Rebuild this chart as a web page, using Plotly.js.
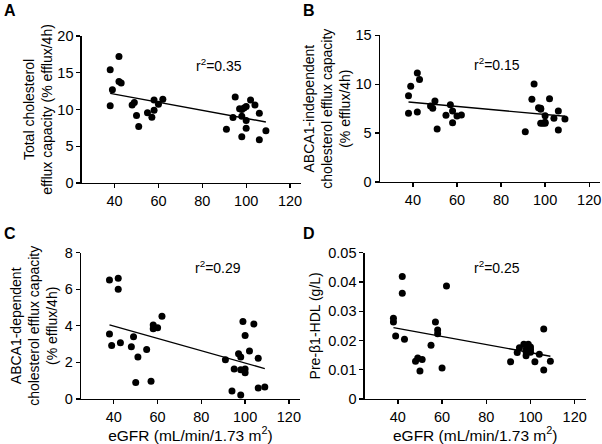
<!DOCTYPE html>
<html>
<head>
<meta charset="utf-8">
<script src="https://cdn.plot.ly/plotly-3.0.1.min.js"></script>
<style>html,body{margin:0;padding:0;background:#fff;}#chart{width:602px;height:444px;}</style>
</head>
<body>
<div id="chart"></div>
<script>
// eGFR (mL/min/1.73 m2), shared by all panels
const egfr = [38, 38, 39, 42, 42, 43, 48, 49, 50, 51, 55, 57, 58, 58, 60, 62,
              91, 94, 95, 97, 98, 98, 98, 99, 100, 100, 100, 102, 104, 106, 106, 109];
// Panel A: total cholesterol efflux capacity
const totalEfflux = [15.4, 10.5, 12.7, 17.2, 13.8, 13.6, 10.6, 10.95, 9.2, 7.7, 9.55, 8.95, 11.3, 9.9, 10.7, 11.4,
                     7.3, 8.9, 11.7, 10.1, 10.0, 6.3, 9.1, 10.2, 10.4, 8.5, 7.45, 11.3, 10.6, 9.5, 5.9, 7.1];
// Panel B: ABCA1-independent efflux
const indepEfflux = [8.83, 7.02, 9.78, 11.15, 7.16, 10.47, 7.77, 7.53, 8.28, 5.42, 6.82, 7.91, 7.26, 6.07, 6.75, 6.85,
                     5.15, 8.46, 10.02, 7.6, 7.53, 6.0, 7.45, 6.0, 6.78, 6.0, 6.1, 8.52, 6.51, 7.26, 5.32, 6.44];
// Panel C: ABCA1-dependent efflux
const depEfflux = [6.5, 3.55, 2.93, 6.6, 6.0, 3.08, 2.85, 3.4, 0.9, 2.3, 2.7, 0.97, 4.05, 3.84, 3.9, 4.52,
                   2.15, 0.44, 1.64, 2.48, 2.3, 0.22, 1.6, 4.24, 1.64, 1.43, 3.47, 2.63, 4.1, 2.23, 0.6, 0.66];
// Panel D: pre-beta1-HDL (g/L)
const preB1HDL = [0.0276, 0.0263, 0.0215, 0.0419, 0.0361, 0.0204, 0.0129, 0.0140, 0.0096, 0.0135, 0.0184, 0.0263, 0.0236, 0.0223, 0.0106, 0.0386,
                  0.0127, 0.0159, 0.0175, 0.0187, 0.0148, 0.0169, 0.0161, 0.0187, 0.0169, 0.0178, 0.0160, 0.0127, 0.0153, 0.0239, 0.0099, 0.0129];
// Regression line end points
const fitX = [38, 109];
const fitA = [12.2, 8.3];
const fitB = [8.18, 6.72];
const fitC = [4.05, 1.66];
const fitD = [0.0244, 0.0146];
const r2Labels = ['r<sup>2</sup>=0.35', 'r<sup>2</sup>=0.15', 'r<sup>2</sup>=0.29', 'r<sup>2</sup>=0.25'];
const xTicks = [40, 60, 80, 100, 120];

const FONT = 'Arial, "Liberation Sans", sans-serif';
const panels = [
  {y: totalEfflux, fit: fitA, ax: '', range: [0, 20], ticks: [0,5,10,15,20]},
  {y: indepEfflux, fit: fitB, ax: '2', range: [0, 15], ticks: [0,5,10,15]},
  {y: depEfflux,   fit: fitC, ax: '3', range: [0, 8], ticks: [0,2,4,6,8]},
  {y: preB1HDL,    fit: fitD, ax: '4', range: [0, 0.05], ticks: [0,0.01,0.02,0.03,0.04,0.05]}
];
const traces = [];
panels.forEach(p => {
  traces.push({x: egfr, y: p.y, type: 'scatter', mode: 'markers', xaxis: 'x'+p.ax, yaxis: 'y'+p.ax,
    marker: {color: '#000', size: 7}, showlegend: false, cliponaxis: false});
  traces.push({x: fitX, y: p.fit, type: 'scatter', mode: 'lines', xaxis: 'x'+p.ax, yaxis: 'y'+p.ax,
    line: {color: '#000', width: 1.4}, showlegend: false});
});

function xa(domain, anchor, title) {
  const o = {domain: domain, anchor: anchor, range: [25, 125], tickvals: xTicks, showgrid: false, zeroline: false,
    showline: true, linecolor: '#000', linewidth: 1.3, ticks: 'outside', ticklen: 4, tickwidth: 1.3, tickcolor: '#000',
    tickfont: {family: FONT, size: 14.5, color: '#000'}, fixedrange: true};
  if (title) o.title = {text: title, font: {family: FONT, size: 15.5, color: '#000'}, standoff: 5};
  return o;
}
function ya(domain, anchor, range, ticks, title, standoff) {
  return {domain: domain, anchor: anchor, range: range, tickvals: ticks, showgrid: false, zeroline: false,
    showline: true, linecolor: '#000', linewidth: 1.3, ticks: 'outside', ticklen: 4, tickwidth: 1.3, tickcolor: '#000',
    tickfont: {family: FONT, size: 14.5, color: '#000'}, fixedrange: true,
    title: {text: title, font: {family: FONT, size: 14, color: '#000'}, standoff: standoff}};
}

const layout = {
  width: 602, height: 444, margin: {l: 0, r: 0, t: 0, b: 0}, paper_bgcolor: '#fff', plot_bgcolor: '#fff',
  font: {family: FONT, color: '#000'},
  xaxis:  xa([0.1357, 0.500], 'y'),
  yaxis:  ya([0.5878, 0.9189], 'x', panels[0].range, panels[0].ticks, 'Total cholesterol<br>efflux capacity (% efflux/4h)', 1),
  xaxis2: xa([0.631, 0.997], 'y2'),
  yaxis2: ya([0.5901, 0.9205], 'x2', panels[1].range, panels[1].ticks, 'ABCA1-independent<br>cholesterol efflux capacity<br>(% efflux/4h)', 1),
  xaxis3: xa([0.1346, 0.498], 'y3', 'eGFR (mL/min/1.73 m<sup>2</sup>)'),
  yaxis3: ya([0.1014, 0.4309], 'x3', panels[2].range, panels[2].ticks, 'ABCA1-dependent<br>cholesterol efflux capacity<br>(% efflux/4h)', 3),
  xaxis4: xa([0.6058, 0.973], 'y4', 'eGFR (mL/min/1.73 m<sup>2</sup>)'),
  yaxis4: ya([0.1014, 0.4309], 'x4', panels[3].range, panels[3].ticks, 'Pre-β1-HDL (g/L)', 4),
  annotations: [
    {text: '<b>A</b>', x: 2/602, y: 1 - 11/444, xref: 'paper', yref: 'paper', xanchor: 'left', yanchor: 'middle', showarrow: false, font: {family: FONT, size: 16, color: '#000'}},
    {text: '<b>B</b>', x: 301/602, y: 1 - 11/444, xref: 'paper', yref: 'paper', xanchor: 'left', yanchor: 'middle', showarrow: false, font: {family: FONT, size: 16, color: '#000'}},
    {text: '<b>C</b>', x: 2/602, y: 1 - 234/444, xref: 'paper', yref: 'paper', xanchor: 'left', yanchor: 'middle', showarrow: false, font: {family: FONT, size: 16, color: '#000'}},
    {text: '<b>D</b>', x: 301/602, y: 1 - 234/444, xref: 'paper', yref: 'paper', xanchor: 'left', yanchor: 'middle', showarrow: false, font: {family: FONT, size: 16, color: '#000'}},
    {text: r2Labels[0], x: 219/602, y: 1 - 54/444, xref: 'paper', yref: 'paper', showarrow: false, font: {family: FONT, size: 14, color: '#000'}},
    {text: r2Labels[1], x: 522/602, y: 1 - 53/444, xref: 'paper', yref: 'paper', showarrow: false, font: {family: FONT, size: 14, color: '#000'}},
    {text: r2Labels[2], x: 218/602, y: 1 - 267/444, xref: 'paper', yref: 'paper', showarrow: false, font: {family: FONT, size: 14, color: '#000'}},
    {text: r2Labels[3], x: 522/602, y: 1 - 267/444, xref: 'paper', yref: 'paper', showarrow: false, font: {family: FONT, size: 14, color: '#000'}}
  ]
};
Plotly.newPlot('chart', traces, layout, {displayModeBar: false, staticPlot: true});
</script>
</body>
</html>
